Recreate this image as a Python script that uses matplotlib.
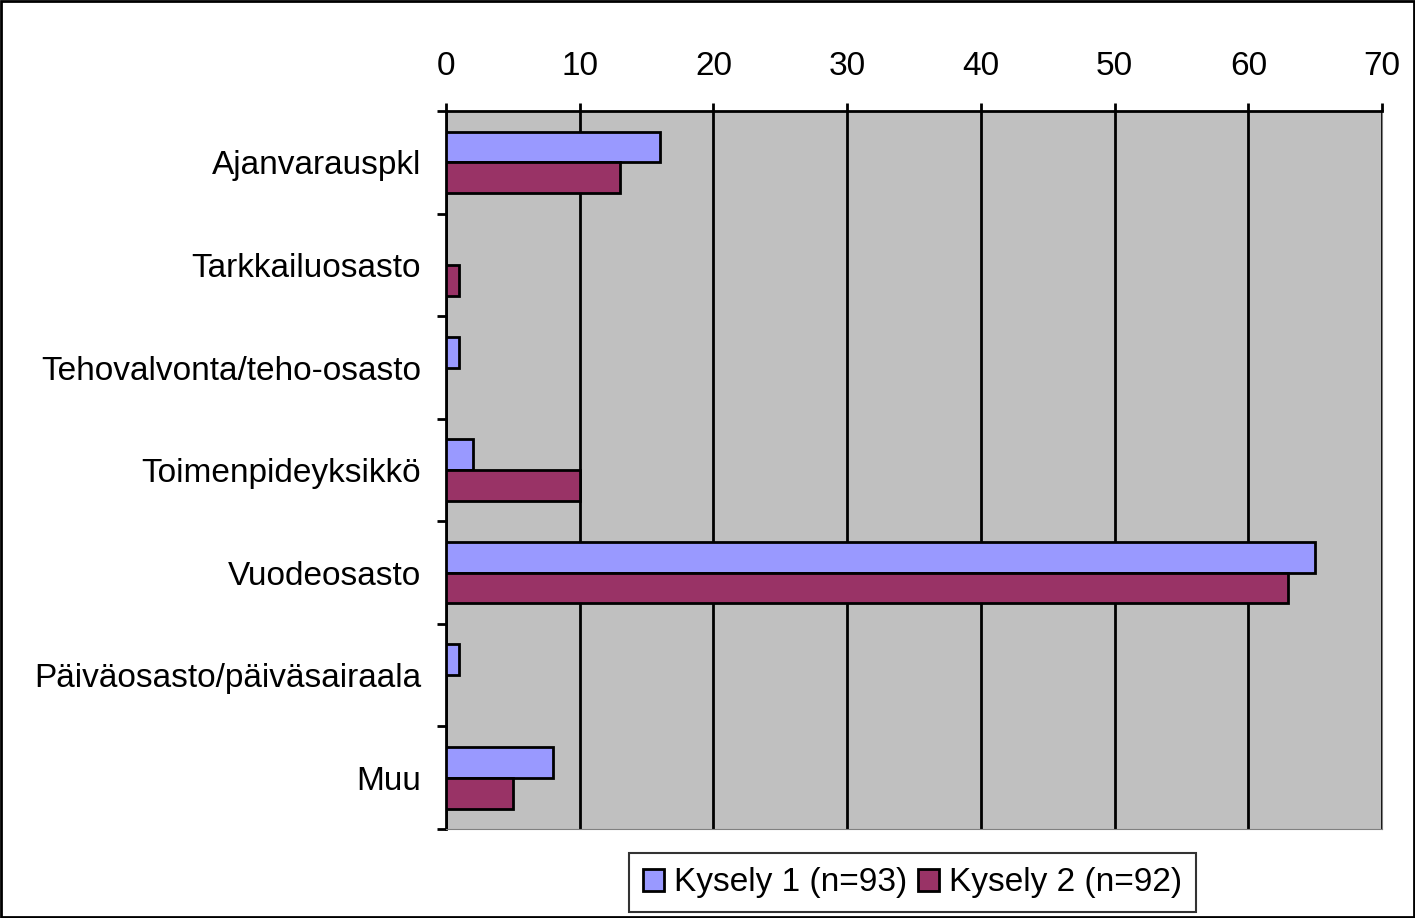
import numpy as np
import matplotlib
matplotlib.use("Agg")
from matplotlib import pyplot as plt
from matplotlib.patches import Rectangle

plt.rcParams['font.family'] = ['Liberation Sans', 'DejaVu Sans']

categories = ['Ajanvarauspkl', 'Tarkkailuosasto', 'Tehovalvonta/teho-osasto',
              'Toimenpideyksikkö', 'Vuodeosasto', 'Päiväosasto/päiväsairaala', 'Muu']
kysely1 = [16, 0, 1, 2, 65, 1, 8]
kysely2 = [13, 1, 0, 10, 63, 0, 5]
labels = ['Kysely 1 (n=93)', 'Kysely 2 (n=92)']
xticks = [0, 10, 20, 30, 40, 50, 60, 70]

fig = plt.figure(figsize=(14.15, 9.18), dpi=100)
ax = fig.add_axes([0.3152, 0.0969, 0.6615, 0.782])
ax.set_facecolor('#C0C0C0')

y = np.arange(len(categories))
h = 0.3
ax.barh(y - h/2, kysely1, height=h, color='#9999FF', edgecolor='black', linewidth=2, label=labels[0], zorder=3)
ax.barh(y + h/2, kysely2, height=h, color='#993366', edgecolor='black', linewidth=2, label=labels[1], zorder=3)

ax.set_xlim(0, 70)
ax.set_ylim(len(categories) - 0.5, -0.5)
ax.set_xticks(xticks)
ax.xaxis.tick_top()
ax.tick_params(axis='x', length=6, width=2, labelsize=24, pad=15)
ax.grid(axis='x', color='black', linewidth=2, zorder=1)

ax.set_yticks(y)
ax.set_yticklabels(categories, fontsize=24)
ax.tick_params(axis='y', length=0, pad=18)
ax.set_yticks(np.arange(len(categories) + 1) - 0.5, minor=True)
ax.tick_params(axis='y', which='minor', length=6.5, width=2)

for s in ['top', 'left']:
    ax.spines[s].set_linewidth(2)
ax.spines['bottom'].set_color('#808080')
ax.spines['right'].set_color('#808080')

leg = ax.legend(loc='center', bbox_to_anchor=(0.4985, -0.075), ncol=2, fontsize=24,
                frameon=True, fancybox=False, edgecolor='black', handlelength=0.65,
                handleheight=0.65, handletextpad=0.3, columnspacing=0.3,
                borderpad=0.42, borderaxespad=0)
leg.get_frame().set_linewidth(1.5)

fig.patches.append(Rectangle((0.001, 0.001), 0.998, 0.998, transform=fig.transFigure,
                             fill=False, edgecolor='black', linewidth=2))

fig.savefig('out.png', dpi=100)
